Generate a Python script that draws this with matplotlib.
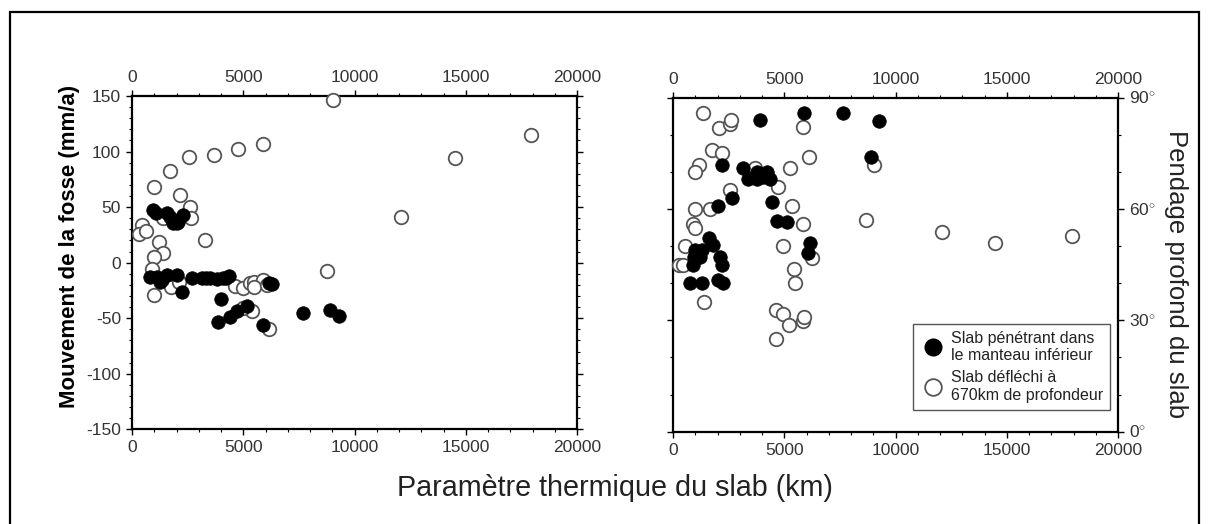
import matplotlib
matplotlib.use("Agg")
import matplotlib.pyplot as plt
from matplotlib.patches import Rectangle
from matplotlib.ticker import MultipleLocator
from matplotlib.lines import Line2D

plt.rcParams['font.family'] = ['Liberation Sans', 'DejaVu Sans']
plt.rcParams['mathtext.fontset'] = 'custom'
plt.rcParams['mathtext.rm'] = 'Liberation Sans'
plt.rcParams['axes.unicode_minus'] = False

# --- Trench motion vs thermal parameter ---
# slabs penetrating the lower mantle
pen_phi = [957, 1079, 1586, 1829, 2081, 2305, 1708, 2009,
           809, 1258, 1110, 1559, 2009, 1335, 2234, 2683, 3132, 3325, 3505,
           3833, 4103, 4224, 4359, 3986, 3878, 4404, 4732, 5155, 5901,
           6170, 6278, 7671, 8898, 9303]
pen_vt = [47.4, 45, 44.4, 36, 36.9, 42.9, 41.4, 35.4,
          -12.6, -17.1, -12.6, -11.1, -11.1, -15.6, -26.1, -14.1, -14.1, -14.1, -14.1,
          -15, -14.1, -14.1, -12, -33, -53.1, -49.2, -43.5, -39, -56.1,
          -18, -19.2, -45.6, -42.6, -47.7]

# slabs deflected at 670 km
def_phi = [9030, 5874, 4750, 3699, 2562, 1694, 989, 2157, 2607, 2652, 1380,
           436, 328, 629, 3294, 1213, 1380, 989, 885, 989, 1739, 2126,
           4629, 5002, 5303, 5483, 5874, 5483, 6053, 5379, 5002, 6170,
           8750, 12075, 14515, 17917]
def_vt = [146.4, 106.5, 102.3, 97.2, 94.8, 82.5, 68.4, 60.6, 50.1, 40.5, 40.5,
          33.9, 25.8, 28.5, 20.1, 18.3, 8.7, 4.8, -6, -29.1, -21.6, -17.1,
          -20.7, -23.1, -18.3, -17.1, -15.6, -21.6, -20.1, -43.5, -41.1, -60,
          -7.2, 41.4, 93.9, 114.9]

# --- Deep slab dip vs thermal parameter ---
pen_phi_dip = [3910, 5887, 7653, 8898, 9258, 2189, 3132, 3384, 3789, 3789,
               4238, 4359, 4058, 4436, 2638, 2009, 4687, 5137, 1631, 989,
               1290, 1811, 2112, 2189, 912, 944, 1200, 764, 1290, 2036, 2260,
               6157, 6080]
pen_dip = [84.0, 86.0, 86.0, 74.1, 83.8, 71.9, 71.0, 68.0, 68.0, 70.1,
           70.1, 68.0, 68.7, 62.0, 62.9, 60.9, 56.9, 56.4, 52.1, 49.0,
           49.0, 50.3, 47.2, 44.9, 44.9, 47.2, 47.2, 40.1, 40.1, 40.9, 40.0,
           50.8, 48.1]

def_phi_dip = [1335, 2081, 2562, 2593, 1739, 2189, 1182, 989, 3685, 5258,
               6125, 5856, 4732, 2562, 989, 1663, 885, 989, 5334, 5829,
               539, 283, 463, 4930, 5451, 5483, 6233, 8673, 9033, 1407,
               4629, 4930, 5227, 5829, 5887, 4629, 12075, 14470, 17917]
def_dip = [86.0, 81.9, 82.8, 84.0, 75.9, 75.0, 71.9, 70.1, 71.1, 71.0,
           74.1, 82.0, 65.9, 65.1, 60.0, 60.0, 56.0, 54.8, 60.8, 56.0,
           50.0, 44.9, 44.9, 50.0, 43.8, 40.0, 46.7, 57.0, 71.9, 35.0,
           32.8, 31.7, 28.8, 29.9, 30.8, 24.9, 53.9, 50.9, 52.8]

x_ticks = [0, 5000, 10000, 15000, 20000]
vt_ticks = [-150, -100, -50, 0, 50, 100, 150]
dip_ticks = [0, 30, 60, 90]
dip_labels = [r'$%d^{\circ}$' % d for d in dip_ticks]

legend_labels = ["Slab pénétrant dans\nle manteau inférieur",
                 "Slab défléchi à\n670km de profondeur"]

W, H = 1208, 524
fig = plt.figure(figsize=(W / 100, H / 100), dpi=100)

def px_axes(x0, y0, x1, y1):
    return fig.add_axes([x0 / W, 1 - y1 / H, (x1 - x0) / W, (y1 - y0) / H])

ax1 = px_axes(132, 96, 577, 429.3)
ax2 = px_axes(673, 97.7, 1118, 431.7)

tick_col = '#333333'
ms = 95
open_edge = '#555555'

def style(ax):
    for s in ax.spines.values():
        s.set_linewidth(1.6)
    ax.xaxis.set_minor_locator(MultipleLocator(1000))
    ax.tick_params(which='major', direction='out', length=4, width=1,
                   colors='black', labelcolor=tick_col, labelsize=12.5, pad=4)
    ax.tick_params(which='minor', direction='out', length=2.2, width=0.8)
    ax.tick_params(axis='x', which='both', top=True, bottom=True,
                   labeltop=True, labelbottom=True)

# left panel
ax1.scatter(def_phi, def_vt, s=ms, facecolor='white', edgecolor=open_edge,
            linewidths=1.3, zorder=3, clip_on=False)
ax1.scatter(pen_phi, pen_vt, s=ms, facecolor='black', edgecolor='black',
            linewidths=0.5, zorder=4, clip_on=False)
ax1.set_xlim(0, 20000)
ax1.set_ylim(-150, 150)
ax1.set_xticks(x_ticks)
ax1.set_yticks(vt_ticks)
ax1.yaxis.set_minor_locator(MultipleLocator(10))
style(ax1)
ax1.tick_params(axis='y', which='both', left=True, right=True,
                labelleft=True, labelright=False)

# right panel
ax2.scatter(def_phi_dip, def_dip, s=ms, facecolor='white', edgecolor=open_edge,
            linewidths=1.3, zorder=3, clip_on=False)
ax2.scatter(pen_phi_dip, pen_dip, s=ms, facecolor='black', edgecolor='black',
            linewidths=0.5, zorder=4, clip_on=False)
ax2.set_xlim(0, 20000)
ax2.set_ylim(0, 90)
ax2.set_xticks(x_ticks)
ax2.set_yticks(dip_ticks)
ax2.set_yticklabels(dip_labels)
ax2.yaxis.set_minor_locator(MultipleLocator(10))
style(ax2)
ax2.tick_params(axis='y', which='both', left=True, right=True,
                labelleft=False, labelright=True)

handles = [Line2D([], [], ls='none', marker='o', markersize=12,
                  markerfacecolor='black', markeredgecolor='black'),
           Line2D([], [], ls='none', marker='o', markersize=12,
                  markerfacecolor='white', markeredgecolor=open_edge,
                  markeredgewidth=1.3)]
leg = ax2.legend(handles, legend_labels, loc='lower right',
                 bbox_to_anchor=(0.982, 0.065), borderaxespad=0,
                 fancybox=False, framealpha=1, edgecolor='#555555',
                 fontsize=11.5, handletextpad=0.3, handlelength=1.6,
                 borderpad=0.45, labelspacing=0.45)
leg.get_frame().set_linewidth(1.0)
for t in leg.get_texts():
    t.set_color('#222222')

# axis titles
fig.text(70 / W, 1 - 246 / H, "Mouvement de la fosse (mm/a)", rotation=90,
         ha='center', va='center', fontsize=16, fontweight='bold')
fig.text(1176 / W, 1 - 274 / H, "Pendage profond du slab", rotation=270,
         ha='center', va='center', fontsize=18.5, color='#222222')
fig.text(615 / W, 1 - 488 / H, "Paramètre thermique du slab (km)",
         ha='center', va='center', fontsize=20.7, color='#222222')

# outer frame
fig.patches.append(Rectangle((10 / W, -0.05), 1189 / W, 1 - 12 / H + 0.05,
                             transform=fig.transFigure, fill=False,
                             edgecolor='black', linewidth=1.6))

fig.savefig("out.png", dpi=100)
